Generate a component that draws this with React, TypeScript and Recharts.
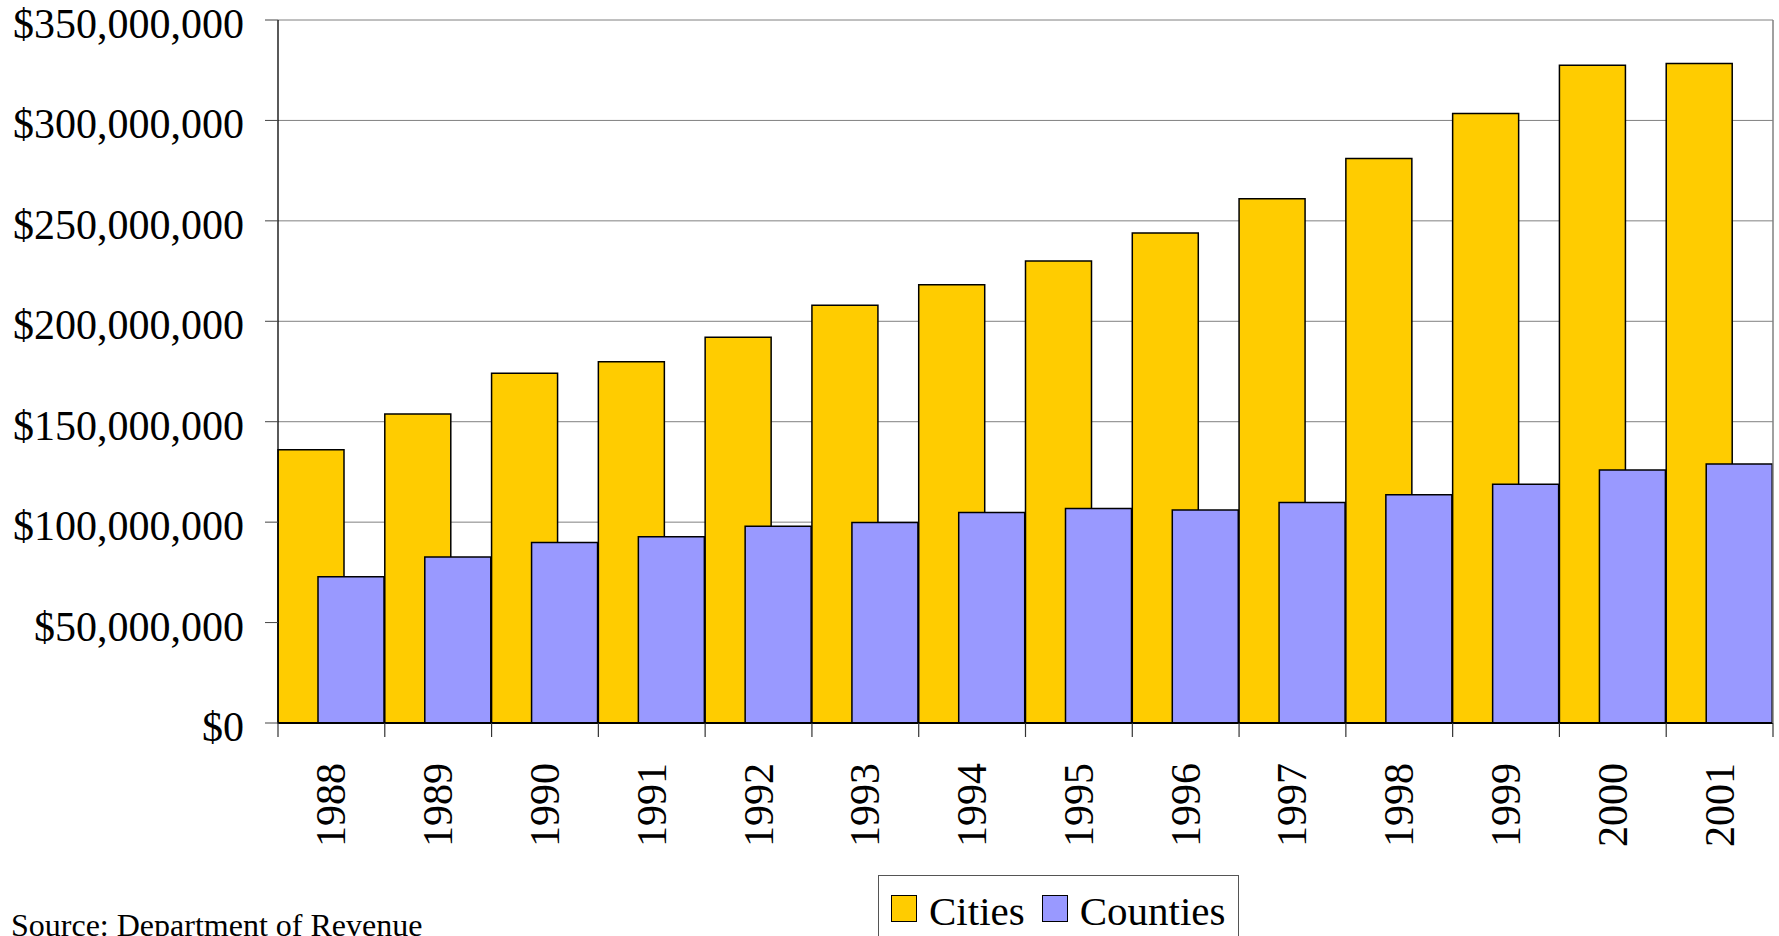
import React from 'react';
import { BarChart, Bar, XAxis, YAxis, CartesianGrid, Legend } from 'recharts';

const years = ['1988', '1989', '1990', '1991', '1992', '1993', '1994', '1995', '1996', '1997', '1998', '1999', '2000', '2001'];
const citiesValues = [136000000, 153900000, 174100000, 179900000, 192000000, 208000000, 218200000, 230000000, 243900000, 261000000, 281100000, 303500000, 327500000, 328400000];
const countiesValues = [72800000, 82700000, 89900000, 92700000, 98000000, 99800000, 104800000, 106800000, 106000000, 109800000, 113700000, 118900000, 125900000, 128900000];
const yTicks = [0, 50000000, 100000000, 150000000, 200000000, 250000000, 300000000, 350000000];
const sourceNote = 'Source: Department of Revenue';

const data = years.map((year, i) => ({ year, Cities: citiesValues[i], Counties: countiesValues[i] }));

const FONT = '"Liberation Serif", "Times New Roman", serif';
const formatDollar = (v: number) => '$' + Number(v).toLocaleString('en-US');

function YTick(props: any) {
  const { x, y, payload } = props;
  return (
    <text x={x} y={y} dy={18} textAnchor="end" fontFamily={FONT} fontSize={42} fill="#000">
      {formatDollar(payload.value)}
    </text>
  );
}

function XTick(props: any) {
  const { x, y, payload, index, visibleTicksCount, width } = props;
  const half = payload && payload.offset != null ? payload.offset : width / visibleTicksCount / 2;
  const isLast = index === years.length - 1;
  return (
    <g>
      <line x1={x - half} x2={x - half} y1={y} y2={y + 14} stroke="#333" strokeWidth={1.2} />
      {isLast && <line x1={x + half} x2={x + half} y1={y} y2={y + 14} stroke="#333" strokeWidth={1.2} />}
      <text
        transform={`translate(${x},${y + 40}) rotate(-90)`}
        textAnchor="end"
        dy={14}
        fontFamily={FONT}
        fontSize={42}
        fill="#000"
      >
        {payload.value}
      </text>
    </g>
  );
}

function LegendBox(props: any) {
  const items = (props.payload || []) as any[];
  return (
    <div
      style={{
        position: 'relative',
        width: 361,
        height: 61,
        boxSizing: 'border-box',
        border: '1px solid #555',
        borderBottom: 'none',
        background: '#fff',
        fontFamily: FONT,
        display: 'flex',
        alignItems: 'flex-start',
        paddingLeft: 12,
        paddingTop: 19,
      }}
    >
      {items.map((item, i) => (
        <div key={i} style={{ display: 'flex', alignItems: 'flex-start', marginRight: 17 }}>
          <div
            style={{
              width: 26,
              height: 27,
              boxSizing: 'border-box',
              border: '1.5px solid #000',
              background: item.color,
              marginRight: 12,
            }}
          />
          <div style={{ fontSize: 41, lineHeight: '41px', marginTop: -4.3, color: '#000', whiteSpace: 'nowrap' }}>
            {item.value}
          </div>
        </div>
      ))}
    </div>
  );
}

export default function App() {
  return (
    <div
      style={{
        position: 'absolute',
        left: 0,
        top: 0,
        width: 1779,
        height: 936,
        overflow: 'hidden',
        background: '#fff',
      }}
    >
      <BarChart
        width={1779}
        height={936}
        data={data}
        margin={{ top: 20, right: 0, bottom: 0, left: 0 }}
        barCategoryGap={0}
        barGap={-26}
      >
        <CartesianGrid horizontal vertical={false} stroke="#808080" strokeWidth={1} />
        <XAxis
          dataKey="year"
          height={213}
          interval={0}
          tickLine={false}
          tickSize={0}
          tickMargin={0}
          axisLine={{ stroke: '#000', strokeWidth: 2 }}
          tick={(p: any) => <XTick {...p} />}
        />
        <YAxis
          domain={[0, 350000000]}
          ticks={yTicks}
          interval={0}
          width={278}
          tickSize={13}
          tickMargin={21}
          axisLine={{ stroke: '#000', strokeWidth: 1.3 }}
          tickLine={{ stroke: '#444', strokeWidth: 1 }}
          tick={(p: any) => <YTick {...p} />}
        />
        <YAxis
          yAxisId="right"
          orientation="right"
          width={6}
          domain={[0, 1]}
          tick={false}
          tickLine={false}
          axisLine={{ stroke: '#808080', strokeWidth: 1.5 }}
        />
        <Legend
          layout="horizontal"
          verticalAlign="middle"
          align="center"
          content={(p: any) => <LegendBox {...p} />}
          wrapperStyle={{ left: 878, top: 875, width: 361, height: 61 }}
        />
        <Bar dataKey="Cities" name="Cities" fill="#FFCC00" stroke="#000" strokeWidth={1.5} isAnimationActive={false} />
        <Bar dataKey="Counties" name="Counties" fill="#9999FF" stroke="#000" strokeWidth={1.5} isAnimationActive={false} />
      </BarChart>
      <div
        style={{
          position: 'absolute',
          left: 11,
          top: 909,
          fontFamily: FONT,
          fontSize: 32,
          lineHeight: '32px',
          color: '#000',
          whiteSpace: 'nowrap',
        }}
      >
        {sourceNote}
      </div>
    </div>
  );
}
